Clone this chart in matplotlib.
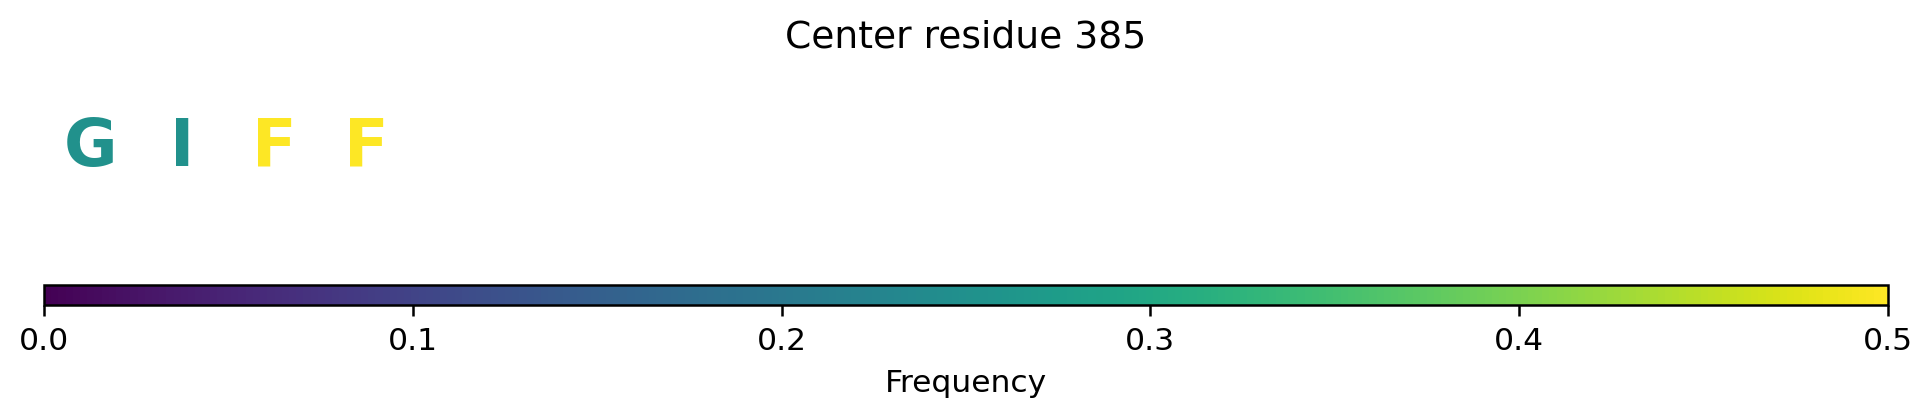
import matplotlib
matplotlib.use("Agg")
import matplotlib.pyplot as plt
import numpy as np
from matplotlib import cm
from matplotlib.colors import Normalize

# Data
letters = ["G", "I", "F", "F"]
frequencies = [0.25, 0.25, 0.5, 0.5]
positions = [0, 1, 2, 3]
window = 20
center_residue = 385
vmin, vmax = 0.0, 0.5
cbar_ticks = [0.0, 0.1, 0.2, 0.3, 0.4, 0.5]

W, H, DPI = 1932, 416, 200
S = 1.13  # overall scale of the reference relative to defaults
fig = plt.figure(figsize=(W / DPI, H / DPI), dpi=DPI)

cmap = matplotlib.colormaps["viridis"]
norm = Normalize(vmin=vmin, vmax=vmax)

left = 44 / W
right = 1888 / W
ax = fig.add_axes([left, 0.40, right - left, 0.50])
ax.set_xlim(-0.5, window - 0.5)
ax.set_ylim(0, 1)
ax.axis("off")
base_y = (1 - 166 / H - 0.40) / 0.50
for x, ch, f in zip(positions, letters, frequencies):
    ax.text(x, base_y, ch, color=cmap(norm(f)), fontsize=23.5, fontweight="bold",
            ha="center", va="baseline")

fig.text(0.5, 1 - 48 / H, f"Center residue {center_residue}", ha="center", va="baseline",
         fontsize=12 * S)

cax = fig.add_axes([left, 1 - 305 / H, right - left, 20.5 / H])
sm = cm.ScalarMappable(norm=norm, cmap=cmap)
cb = fig.colorbar(sm, cax=cax, orientation="horizontal", ticks=cbar_ticks)
cb.ax.tick_params(labelsize=10 * S, length=3.5 * S, width=0.8 * S, pad=3.5 * S)
cb.outline.set_linewidth(0.8 * S)
cb.set_label("Frequency", fontsize=10 * S, labelpad=4 * S)

fig.savefig("out.png", dpi=DPI)
